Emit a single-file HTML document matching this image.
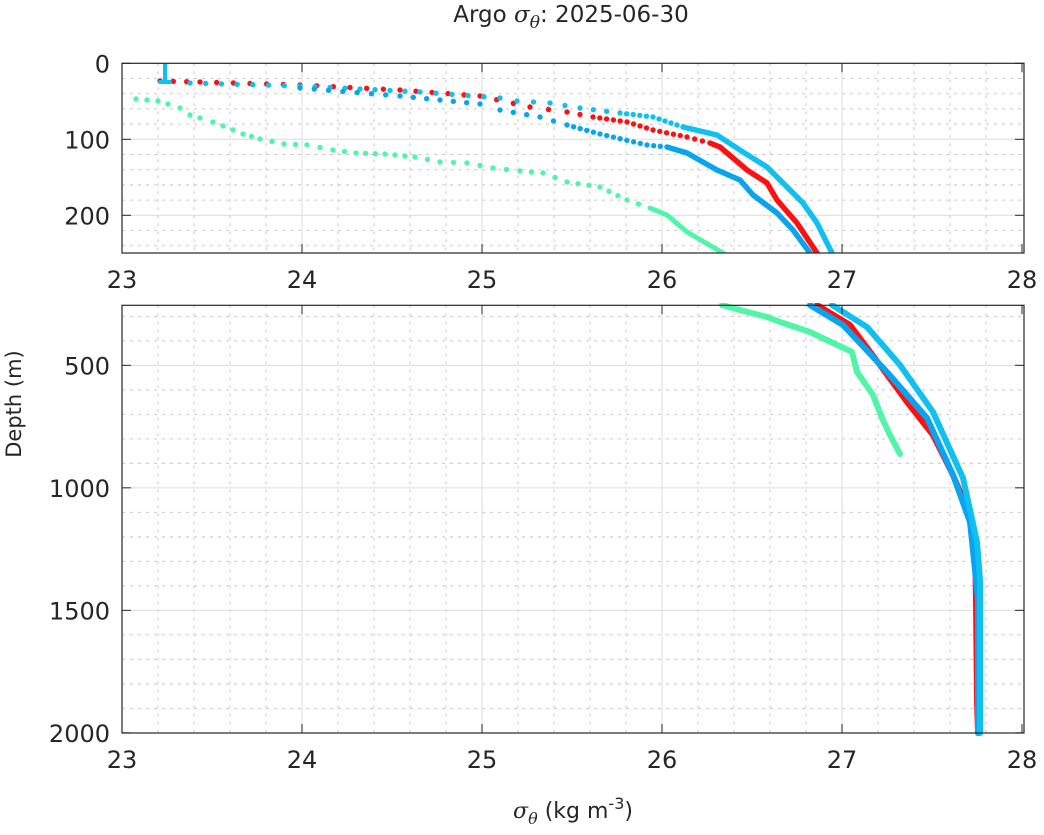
<!DOCTYPE html>
<html><head><meta charset="utf-8"><style>
html,body{margin:0;padding:0;background:#fff}
svg{display:block}
text{font-family:"DejaVu Sans","Liberation Sans",sans-serif;fill:#262626}
</style></head><body>
<svg id="s" width="1044" height="835" xmlns="http://www.w3.org/2000/svg"></svg>
<script>
const s=document.getElementById('s');let h='';
const X0=122,PX=180;
const ax=[{t:63.3,b:253,d0:0,d1:250,py:0.76,maj:[0,100,200],min:20},
          {t:305.3,b:733,d0:255,d1:2001,py:0.245,maj:[500,1000,1500,2000],min:100}];
ax.forEach(a=>{
  const y=d=>a.t+(d-a.d0)*a.py;
  for(let v=23.2;v<28;v+=0.2){const x=X0+(v-23)*PX; if(Math.abs((v-23)%1)<0.01||Math.abs((v-23)%1-1)<0.01)continue;
    h+=`<line x1="${x}" y1="${a.t}" x2="${x}" y2="${a.b}" stroke="#c8c8c8" stroke-dasharray="3,5" stroke-width="1"/>`;}
  for(let d=Math.ceil(a.d0/a.min)*a.min;d<=a.d1;d+=a.min){if(a.maj.includes(d))continue;const yy=y(d);if(yy<=a.t+1||yy>=a.b-1)continue;
    h+=`<line x1="${X0}" y1="${yy}" x2="1024" y2="${yy}" stroke="#c8c8c8" stroke-dasharray="3,5" stroke-width="1"/>`;}
  for(let v=24;v<28;v++){const x=X0+(v-23)*PX;h+=`<line x1="${x}" y1="${a.t}" x2="${x}" y2="${a.b}" stroke="#dcdcdc"/>`;}
  a.maj.forEach(d=>{const yy=y(d);if(yy>a.t+1&&yy<a.b-1)h+=`<line x1="${X0}" y1="${yy}" x2="1024" y2="${yy}" stroke="#dcdcdc"/>`;});
});
function line(pts,c,w){h+=`<polyline points="${pts.map(p=>p.join(',')).join(' ')}" fill="none" stroke="${c}" stroke-width="${w}" stroke-linejoin="round" stroke-linecap="round"/>`;}
function dots(pts,c,step){for(let i=0;i<pts.length-1;i++){const[a,b]=[pts[i],pts[i+1]];const L=Math.hypot(b[0]-a[0],b[1]-a[1]);const n=Math.max(1,Math.round(L/step));
  for(let k=0;k<n;k++){const t=k/n;h+=`<circle cx="${a[0]+(b[0]-a[0])*t}" cy="${a[1]+(b[1]-a[1])*t}" r="2.7" fill="${c}"/>`;}}}
const G='#50f5a8',R='#ff1010',B='#08a4f0',C='#10c0f0';
h+='<defs><clipPath id="c1"><rect x="122" y="63" width="902" height="190"/></clipPath><clipPath id="c2"><rect x="122" y="303" width="902" height="433"/></clipPath></defs><g clip-path="url(#c1)">';
dots([[136,99],[158,101],[168,104],[180,108],[190,115],[200,118],[213,122],[233,130],[243,134],[260,139],[284,144],[307,145],[333,150],[356,153],[385,154],[415,157],[440,162],[467,163],[493,168],[520,171],[543,173],[567,182],[600,187],[627,200],[650,208]],G,11);
line([[650,208],[667,215],[687,232],[723,253]],G,5);
dots([[160,81],[200,82],[300,85],[400,90],[480,96],[530,107],[567,112],[593,117]],R,16);
dots([[593,117],[627,122],[653,130],[687,137],[710,143]],R,7);
line([[710,143],[720,147],[733,158],[747,170],[767,183],[777,200],[797,223],[817,253]],R,5.5);
dots([[130,78]],C,10);
line([[165,62],[165,82]],C,4);line([[160,82],[170,82]],C,4);
dots([[190,83],[300,86],[420,92],[500,98],[517,101],[550,103],[580,108],[620,113]],C,16);
dots([[620,113],[653,117],[683,127]],C,7);
line([[683,127],[717,135],[743,152],[767,167],[787,187],[803,203],[817,223],[832,253]],C,5.5);
dots([[300,88],[400,96],[480,104],[500,110],[540,117],[567,125]],B,14);
dots([[567,125],[600,134],[647,145],[667,147]],B,7);
line([[667,147],[687,153],[717,170],[740,180],[753,195],[777,213],[793,230],[810,253]],B,5.5);
h+='</g><g clip-path="url(#c2)">';
line([[722,305],[740,310],[767,317],[783,323],[810,332],[833,343],[852,352],[857,372],[873,395],[882,418],[890,435],[900,454]],G,6);
line([[817,305],[850,325],[880,365],[907,402],[933,435],[953,475],[967,508],[975,545],[976,600],[977,700],[978,733]],R,6);
line([[810,305],[843,325],[887,372],[927,418],[953,475],[970,522],[974,560],[978,600],[978,733]],B,6);
line([[832,305],[867,327],[900,365],[933,412],[963,478],[977,542],[980,580],[980,733]],C,6);
h+='</g>';
ax.forEach(a=>{
  const y=d=>a.t+(d-a.d0)*a.py;
  h+=`<rect x="${X0}" y="${a.t}" width="902" height="${a.b-a.t}" fill="none" stroke="#262626" stroke-width="1.2"/>`;
  for(let v=23;v<=28;v++){const x=X0+(v-23)*PX;
    h+=`<line x1="${x}" y1="${a.b}" x2="${x}" y2="${a.b-9}" stroke="#262626"/><line x1="${x}" y1="${a.t}" x2="${x}" y2="${a.t+9}" stroke="#262626"/>`;
    h+=`<text x="${x}" y="${a.b+35}" font-size="24" text-anchor="middle">${v}</text>`;}
  a.maj.forEach(d=>{const yy=y(d);
    h+=`<line x1="${X0}" y1="${yy}" x2="${X0+9}" y2="${yy}" stroke="#262626"/><line x1="1024" y1="${yy}" x2="1015" y2="${yy}" stroke="#262626"/>`;
    h+=`<text x="110" y="${yy+9}" font-size="24" text-anchor="end">${d}</text>`;});
});
h+=`<text x="571" y="22" font-size="23" text-anchor="middle">Argo <tspan font-family="DejaVu Serif" font-style="italic">σ</tspan><tspan font-family="DejaVu Serif" font-style="italic" font-size="17" dy="6">θ</tspan><tspan dy="-6">: 2025-06-30</tspan></text>`;
h+=`<text x="573" y="818" font-size="22" text-anchor="middle"><tspan font-family="DejaVu Serif" font-style="italic">σ</tspan><tspan font-family="DejaVu Serif" font-style="italic" font-size="16" dy="6">θ</tspan><tspan dy="-6"> (kg m</tspan><tspan font-size="16" dy="-9">-3</tspan><tspan dy="9">)</tspan></text>`;
h+=`<text transform="translate(21,404) rotate(-90)" font-size="21" text-anchor="middle">Depth (m)</text>`;
s.innerHTML=h;
</script>
</body></html>
